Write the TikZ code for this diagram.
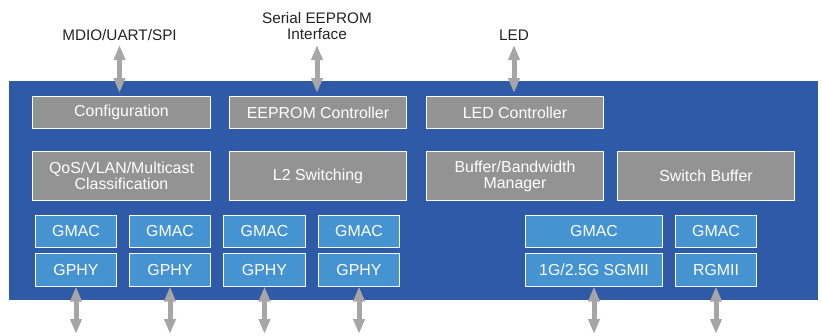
\documentclass[tikz,border=0pt]{standalone}
\usepackage{fontspec}
\setmainfont{Liberation Sans}
\usetikzlibrary{arrows.meta}
\definecolor{bgblue}{HTML}{2E5AA8}
\definecolor{boxgrey}{HTML}{939393}
\definecolor{boxblue}{HTML}{4693D2}
\definecolor{arrgrey}{HTML}{A6A6A6}
\definecolor{labeltext}{HTML}{222222}
\newcommand\mkbox[7]{\node[#2,minimum width={#4-#3-1},minimum height={#6-#5-1}] (#1) at ({(#3+#4)/2},{(#5+#6)/2}) {#7};}
\begin{document}
\begin{tikzpicture}[x=1pt,y=-1pt,
  box/.style={draw=white,line width=1pt,text=white,inner sep=0pt,align=center,font=\fontsize{15.9}{16}\selectfont},
  gbox/.style={box,fill=boxgrey},
  bbox/.style={box,fill=boxblue},
  lbl/.style={text=labeltext,align=center,font=\fontsize{15.3}{16}\selectfont,inner sep=0pt,text depth=0pt,anchor=south},
  dbl/.style={draw=arrgrey,line width=5pt,{Triangle[width=11pt,length=15pt]}-{Triangle[width=11pt,length=15pt]}}]
\useasboundingbox (0,0) rectangle (822,335);
\fill[bgblue] (9,81) rectangle (818,300);
% top row
\mkbox{cfg}{gbox}{32}{211}{96}{129}{Configuration}
\mkbox{eep}{gbox}{229}{407}{96}{129}{EEPROM Controller}
\mkbox{led}{gbox}{426}{604}{96}{129}{LED Controller}
% second row
\mkbox{qos}{gbox}{32}{211}{151}{201}{QoS/VLAN/Multicast\\Classification}
\mkbox{l2}{gbox}{229}{407}{151}{201}{L2 Switching}
\mkbox{buf}{gbox}{426}{604}{151}{201}{Buffer/Bandwidth\\Manager}
\mkbox{sw}{gbox}{617}{795}{151}{201}{Switch Buffer}
% GMAC row
\mkbox{gmac1}{bbox}{35}{117}{215}{248}{GMAC}
\mkbox{gmac2}{bbox}{129}{211}{215}{248}{GMAC}
\mkbox{gmac3}{bbox}{223}{306}{215}{248}{GMAC}
\mkbox{gmac4}{bbox}{318}{400}{215}{248}{GMAC}
\mkbox{gmac5}{bbox}{525}{663}{215}{248}{GMAC}
\mkbox{gmac6}{bbox}{675}{757}{215}{248}{GMAC}
% PHY row
\mkbox{gphy1}{bbox}{35}{117}{253}{287}{GPHY}
\mkbox{gphy2}{bbox}{129}{211}{253}{287}{GPHY}
\mkbox{gphy3}{bbox}{223}{306}{253}{287}{GPHY}
\mkbox{gphy4}{bbox}{318}{400}{253}{287}{GPHY}
\mkbox{sgmii}{bbox}{525}{663}{253}{287}{1G/2.5G SGMII}
\mkbox{rgmii}{bbox}{675}{757}{253}{287}{RGMII}
% labels
\node[lbl] (mdio) at (119.5,41) {MDIO/UART/SPI};
\node[lbl] (seep) at (317,40) {Serial EEPROM\\Interface};
\node[lbl] (ledl) at (514,41) {LED};
% top arrows
\draw[dbl,shorten <=4pt,shorten >=3pt] (mdio.south) -- (mdio.south |- cfg.north);
\draw[dbl,shorten <=5pt,shorten >=3pt] (seep.south) -- (seep.south |- eep.north);
\draw[dbl,shorten <=4pt,shorten >=3pt] (ledl.south) -- (ledl.south |- led.north);
% bottom arrows
\coordinate (bot) at (0,334);
\foreach \n in {gphy1,gphy2,gphy3,gphy4,sgmii,rgmii}
  \draw[dbl,shorten <=-0.5pt] (\n.south) -- (\n.south |- bot);
\end{tikzpicture}
\end{document}
